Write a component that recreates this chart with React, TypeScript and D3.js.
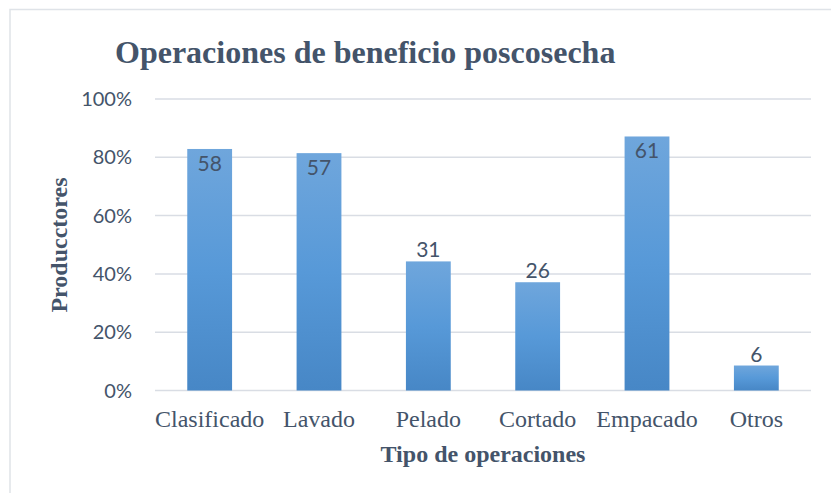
import React, { useEffect, useRef } from 'react';
import * as d3 from 'd3';

// data
const categories = ['Clasificado', 'Lavado', 'Pelado', 'Cortado', 'Empacado', 'Otros'];
const counts = [58, 57, 31, 26, 61, 6];
const totalProducers = 70;
const yTicks = [0, 0.2, 0.4, 0.6, 0.8, 1];

const W = 831;
const H = 493;
const textColor = '#44546a';
const gridColor = '#d9dde4';

const App = () => {
  const svgRef = useRef<SVGSVGElement>(null);

  useEffect(() => {
    const svg = d3.select(svgRef.current);
    svg.selectAll('*').remove();

    const x = d3.scaleBand()
      .domain(categories)
      .range([155, 811])
      .paddingInner(0.59)
      .paddingOuter(0.295);

    const y = d3.scaleLinear().domain([0, 1]).range([390.5, 99]);

    const defs = svg.append('defs');
    const grad = defs.append('linearGradient')
      .attr('id', 'barGrad')
      .attr('x1', 0).attr('y1', 0).attr('x2', 0).attr('y2', 1);
    grad.append('stop').attr('offset', '0%').attr('stop-color', '#6fa6dc');
    grad.append('stop').attr('offset', '50%').attr('stop-color', '#5799d8');
    grad.append('stop').attr('offset', '100%').attr('stop-color', '#4787c6');

    // chart frame (runs off the right and bottom edges)
    svg.append('rect')
      .attr('x', 10).attr('y', 9.5)
      .attr('width', 900).attr('height', 600)
      .attr('fill', 'white')
      .attr('stroke', '#dfe3e8')
      .attr('stroke-width', 1.5);

    svg.append('text')
      .attr('x', 115)
      .attr('y', 63)
      .style('font-family', '"Liberation Serif", "Times New Roman", serif')
      .style('font-size', '32px')
      .style('font-weight', 'bold')
      .style('fill', textColor)
      .text('Operaciones de beneficio poscosecha');

    // gridlines
    svg.append('g')
      .selectAll('line')
      .data(yTicks)
      .enter()
      .append('line')
      .attr('x1', 155)
      .attr('x2', 811)
      .attr('y1', d => y(d))
      .attr('y2', d => y(d))
      .attr('stroke', gridColor)
      .attr('stroke-width', 1.5);

    // y tick labels
    svg.append('g')
      .selectAll('text')
      .data(yTicks)
      .enter()
      .append('text')
      .attr('x', 132)
      .attr('y', d => y(d) + 7)
      .attr('text-anchor', 'end')
      .style('font-family', 'Lato, "Open Sans", sans-serif')
      .style('font-size', '20px')
      .style('fill', textColor)
      .text(d => d3.format('.0%')(d));

    const shares = counts.map(c => c / totalProducers);

    svg.append('g')
      .selectAll('rect')
      .data(categories)
      .enter()
      .append('rect')
      .attr('x', d => x(d)!)
      .attr('width', x.bandwidth())
      .attr('y', (d, i) => y(shares[i]))
      .attr('height', (d, i) => y(0) - y(shares[i]))
      .attr('fill', 'url(#barGrad)');

    // value labels: inside the top of tall bars, above short ones
    svg.append('g')
      .selectAll('text')
      .data(categories)
      .enter()
      .append('text')
      .attr('x', d => x(d)! + x.bandwidth() / 2)
      .attr('y', (d, i) => {
        const top = y(shares[i]);
        return shares[i] > 0.6 ? top + 22 : top - 4;
      })
      .attr('text-anchor', 'middle')
      .style('font-family', 'Lato, "Open Sans", sans-serif')
      .style('font-size', '21px')
      .style('fill', textColor)
      .text((d, i) => counts[i]);

    // category labels
    svg.append('g')
      .selectAll('text')
      .data(categories)
      .enter()
      .append('text')
      .attr('x', d => x(d)! + x.bandwidth() / 2)
      .attr('y', 427)
      .attr('text-anchor', 'middle')
      .style('font-family', '"Liberation Serif", "Times New Roman", serif')
      .style('font-size', '24px')
      .style('fill', textColor)
      .text(d => d);

    svg.append('text')
      .attr('x', 483)
      .attr('y', 462)
      .attr('text-anchor', 'middle')
      .style('font-family', '"Liberation Serif", "Times New Roman", serif')
      .style('font-size', '24px')
      .style('font-weight', 'bold')
      .style('fill', textColor)
      .text('Tipo de operaciones');

    svg.append('text')
      .attr('transform', 'translate(67,245) rotate(-90)')
      .attr('text-anchor', 'middle')
      .style('font-family', '"Liberation Serif", "Times New Roman", serif')
      .style('font-size', '24px')
      .style('font-weight', 'bold')
      .style('fill', textColor)
      .text('Producctores');
  }, []);

  return (
    <svg
      ref={svgRef}
      width={W}
      height={H}
      style={{ position: 'absolute', left: 0, top: 0, display: 'block', background: 'white' }}
    />
  );
};

export default App;
